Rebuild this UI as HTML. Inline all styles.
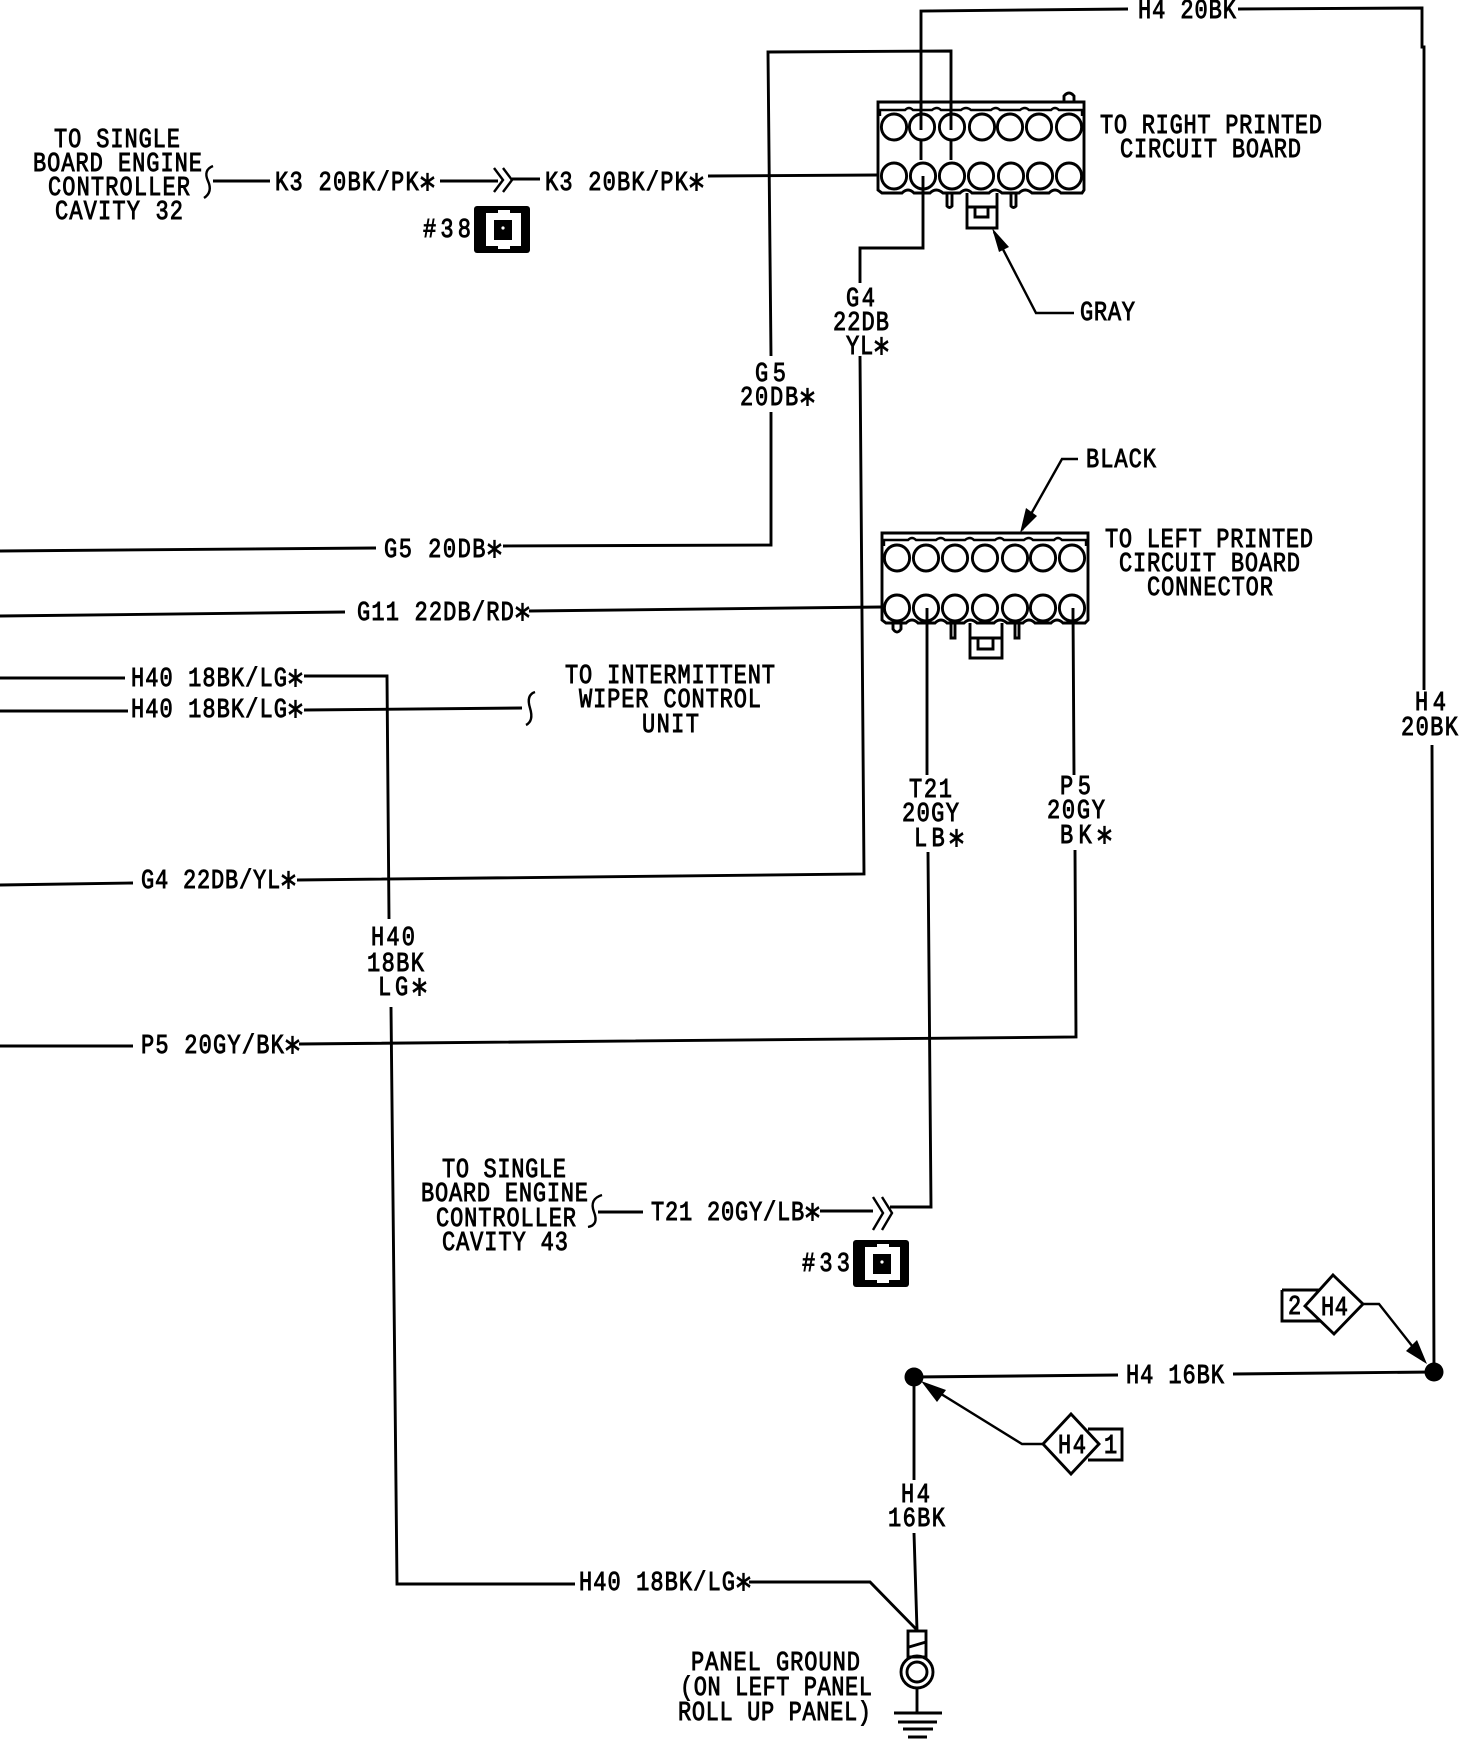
<!DOCTYPE html>
<html><head><meta charset="utf-8"><style>
html,body{margin:0;padding:0;background:#fff}
svg{display:block}
text{font-family:"Liberation Mono",monospace;font-size:22px;fill:#000;stroke:#000;stroke-width:.75px}
tspan{font-family:"DejaVu Sans",sans-serif;font-size:30px}
.w{fill:none;stroke:#000;stroke-width:2.9;stroke-linejoin:miter}
.t{fill:none;stroke:#000;stroke-width:2.4}
</style></head><body>
<svg width="1472" height="1740" viewBox="0 0 1472 1740" xmlns="http://www.w3.org/2000/svg">
<defs>
<g id="pin"><rect x="0" y="0" width="56" height="47" rx="3" fill="#000"/><path d="M12 7H24V4H36V7H47V40H36V43H24V40H12Z" fill="#fff"/><rect x="20" y="14" width="18" height="20" fill="#000"/><circle cx="29" cy="22" r="1.6" fill="#fff"/></g>
</defs>
<!-- wires -->
<path class="w" d="M921 160V11L1128 9M1238 9L1422 8V47L1424 47V690M1432 745L1434 1372"/>
<path class="w" d="M951 160V51L768 52L771 356M771 412V545L503 546M376 548L0 551"/>
<path class="w" d="M0 616L345 612M529 611L882 607"/>
<path class="w" d="M923 176V248H860V283M860 356L864 874L297 880M133 883L0 885"/>
<path class="w" d="M0 678H125M304 676H387L389 919M391 1007L397 1584H575M749 1582H870L917 1630"/>
<path class="w" d="M0 711H128M304 710L522 708"/>
<path class="t" d="M535 692Q526 695 530 708T526 725"/>
<path class="w" d="M0 1046H133M299 1044L1076 1037L1075 850M1074 775L1073 608"/>
<path class="w" d="M927 608V775M928 852L931 1207H890M873 1211H820M643 1212H598"/>
<path class="t" d="M602 1195Q589 1199 594 1212T588 1227"/>
<path class="t" d="M873 1197L883 1213L873 1230M882 1197L892 1213L882 1230"/>
<path class="w" d="M213 181H270M440 181H498M512 179H540M708 176L878 175"/>
<path class="t" d="M213 166Q203 170 208 181T204 198"/>
<path class="t" d="M494 168L503 180L494 192M503 168L512 180L503 192"/>
<path class="w" d="M914 1377L1118 1375M1233 1374L1434 1372"/>
<path class="w" d="M914 1377V1480M914 1533L917 1630"/>
<!-- connector 1 -->
<path class="w" d="M878 102H1084V190L1082 193H1061Q1055 187 1049 193H1032Q1025 187 1019 193H1002Q995 187 989 193H972Q966 187 960 193H943Q936 187 930 193H914Q908 187 902 193H882L878 190Z"/>
<path class="t" d="M880 116V110H905Q909 106 913 110H932Q937 106 941 110H961Q966 106 971 110H991Q996 106 1000 110H1020Q1025 106 1029 110H1051Q1055 106 1059 110H1082V116"/>
<g class="w" fill="#fff" style="fill:#fff"><ellipse cx="894" cy="127" rx="12.6" ry="13"/><ellipse cx="922" cy="127" rx="12.6" ry="13"/><ellipse cx="952" cy="127" rx="12.6" ry="13"/><ellipse cx="982" cy="127" rx="12.6" ry="13"/><ellipse cx="1010" cy="127" rx="12.6" ry="13"/><ellipse cx="1039" cy="127" rx="12.6" ry="13"/><ellipse cx="1069" cy="127" rx="12.6" ry="13"/><ellipse cx="894" cy="176" rx="12.6" ry="13"/><ellipse cx="923" cy="176" rx="12.6" ry="13"/><ellipse cx="952" cy="176" rx="12.6" ry="13"/><ellipse cx="981" cy="176" rx="12.6" ry="13"/><ellipse cx="1011" cy="176" rx="12.6" ry="13"/><ellipse cx="1040" cy="176" rx="12.6" ry="13"/><ellipse cx="1069" cy="176" rx="12.6" ry="13"/></g>
<path class="w" d="M921 102V130M951 102V130M923 176V193"/>
<path class="w" d="M1064 102V96Q1069 90 1074 96V102"/>
<path class="w" d="M947 193V206Q949.500 209 952 206V193M1011 193V206Q1013.500 209 1016 206V193"/>
<path class="w" d="M967 193V228H997V193M967 207H997M975 207V217H988V207"/>
<path class="w" d="M1074 313H1036L994 232" style="stroke-width:2.4"/>
<path d="M992 228L1009 247L999 252Z" fill="#000"/>
<!-- connector 2 -->
<path class="w" d="M882 533H1088V620L1085 623H1063Q1057 617 1051 623H1035Q1029 617 1023 623H1007Q1000 617 994 623H977Q970 617 964 623H947Q941 617 935 623H918Q912 617 906 623H886L882 620Z"/>
<path class="t" d="M884 546V540H908Q912 536 916 540H936Q941 536 945 540H965Q970 536 974 540H995Q1000 536 1004 540H1024Q1029 536 1033 540H1054Q1058 536 1062 540H1086V546"/>
<g class="w" style="fill:#fff"><ellipse cx="897" cy="558" rx="12.6" ry="13"/><ellipse cx="926" cy="558" rx="12.6" ry="13"/><ellipse cx="955" cy="558" rx="12.6" ry="13"/><ellipse cx="985" cy="558" rx="12.6" ry="13"/><ellipse cx="1015" cy="558" rx="12.6" ry="13"/><ellipse cx="1043" cy="558" rx="12.6" ry="13"/><ellipse cx="1072" cy="558" rx="12.6" ry="13"/><ellipse cx="897" cy="608" rx="12.6" ry="13"/><ellipse cx="926" cy="608" rx="12.6" ry="13"/><ellipse cx="955" cy="608" rx="12.6" ry="13"/><ellipse cx="985" cy="608" rx="12.6" ry="13"/><ellipse cx="1015" cy="608" rx="12.6" ry="13"/><ellipse cx="1043" cy="608" rx="12.6" ry="13"/><ellipse cx="1072" cy="608" rx="12.6" ry="13"/></g>
<path class="w" d="M927 608V623M1073 608V623"/>
<path class="w" d="M893 623V629Q897 635 901 629V623M951 623V638H955V623M1015 623V638H1019V623"/>
<path class="w" d="M970 623V658H1002V623M970 638H1002M978 638V649H993V638"/>
<path class="w" d="M1078 459H1062L1022 530" style="stroke-width:2.4"/>
<path d="M1020 533L1026 508L1037 516Z" fill="#000"/>
<!-- ground -->
<rect class="w" x="908" y="1631" width="18" height="26"/>
<path class="w" d="M909 1647L926 1642"/>
<circle class="w" cx="917" cy="1672" r="16"/><circle class="w" cx="917" cy="1672" r="10"/>
<path class="w" d="M917 1688V1713M894 1713H942M898 1722H937M903 1729H933M908 1737H927"/>
<!-- diamonds -->
<path class="w" d="M1282 1290V1321H1320M1282 1290H1320"/>
<path class="w" d="M1333 1275L1363 1304L1334 1334L1305 1306Z" style="fill:#fff"/>
<path class="w" d="M1363 1304H1379L1424 1361" style="stroke-width:2.4"/>
<path d="M1427 1364L1406 1351L1417 1340Z" fill="#000"/>
<path class="w" d="M1088 1429H1122V1460H1088"/>
<path class="w" d="M1071 1414L1099 1444L1071 1474L1043 1444Z" style="fill:#fff"/>
<path class="w" d="M1043 1444H1022L925 1384" style="stroke-width:2.4"/>
<path d="M921 1381L946 1390L937 1402Z" fill="#000"/>
<circle cx="1434" cy="1372" r="9.5" fill="#000"/>
<circle cx="914" cy="1377" r="9.5" fill="#000"/>
<!-- pin blocks -->
<use href="#pin" x="474" y="206"/>
<use href="#pin" x="853" y="1240"/>
<!-- labels -->
<g>
<text transform="translate(1138 18) scale(1 1.24)" textLength="98">H4 20BK</text>
<text transform="translate(1100 133) scale(1 1.24)" textLength="222">TO RIGHT PRINTED</text>
<text transform="translate(1120 157) scale(1 1.24)" textLength="181">CIRCUIT BOARD</text>
<text transform="translate(1080 320) scale(1 1.24)" textLength="55">GRAY</text>
<text transform="translate(846 306) scale(1 1.24)" textLength="29">G4</text>
<text transform="translate(833 330) scale(1 1.24)" textLength="56">22DB</text>
<text transform="translate(846 354) scale(1 1.24)" textLength="43">YL<tspan dy="9">*</tspan></text>
<text transform="translate(755 381) scale(1 1.24)" textLength="31">G5</text>
<text transform="translate(740 405) scale(1 1.24)" textLength="75">20DB<tspan dy="9">*</tspan></text>
<text transform="translate(1086 467) scale(1 1.24)" textLength="70">BLACK</text>
<text transform="translate(1105 547) scale(1 1.24)" textLength="208">TO LEFT PRINTED</text>
<text transform="translate(1119 571) scale(1 1.24)" textLength="181">CIRCUIT BOARD</text>
<text transform="translate(1147 595) scale(1 1.24)" textLength="126">CONNECTOR</text>
<text transform="translate(384 557) scale(1 1.24)" textLength="118">G5 20DB<tspan dy="9">*</tspan></text>
<text transform="translate(357 620) scale(1 1.24)" textLength="173">G11 22DB/RD<tspan dy="9">*</tspan></text>
<text transform="translate(131 686) scale(1 1.24)" textLength="172">H40 18BK/LG<tspan dy="9">*</tspan></text>
<text transform="translate(131 717) scale(1 1.24)" textLength="172">H40 18BK/LG<tspan dy="9">*</tspan></text>
<text transform="translate(565 683) scale(1 1.24)" textLength="210">TO INTERMITTENT</text>
<text transform="translate(579 707) scale(1 1.24)" textLength="182">WIPER CONTROL</text>
<text transform="translate(642 732) scale(1 1.24)" textLength="57">UNIT</text>
<text transform="translate(141 888) scale(1 1.24)" textLength="155">G4 22DB/YL<tspan dy="9">*</tspan></text>
<text transform="translate(909 797) scale(1 1.24)" textLength="43">T21</text>
<text transform="translate(902 821) scale(1 1.24)" textLength="57">20GY</text>
<text transform="translate(914 846) scale(1 1.24)" textLength="50">LB<tspan dy="9">*</tspan></text>
<text transform="translate(1060 794) scale(1 1.24)" textLength="31">P5</text>
<text transform="translate(1047 818) scale(1 1.24)" textLength="58">20GY</text>
<text transform="translate(1060 843) scale(1 1.24)" textLength="52">BK<tspan dy="9">*</tspan></text>
<text transform="translate(1415 710) scale(1 1.24)" textLength="31">H4</text>
<text transform="translate(1401 735) scale(1 1.24)" textLength="57">20BK</text>
<text transform="translate(371 945) scale(1 1.24)" textLength="44">H40</text>
<text transform="translate(367 971) scale(1 1.24)" textLength="57">18BK</text>
<text transform="translate(378 995) scale(1 1.24)" textLength="49">LG<tspan dy="9">*</tspan></text>
<text transform="translate(141 1053) scale(1 1.24)" textLength="159">P5 20GY/BK<tspan dy="9">*</tspan></text>
<text transform="translate(54 147) scale(1 1.24)" textLength="126">TO SINGLE</text>
<text transform="translate(33 171) scale(1 1.24)" textLength="169">BOARD ENGINE</text>
<text transform="translate(48 195) scale(1 1.24)" textLength="142">CONTROLLER</text>
<text transform="translate(55 219) scale(1 1.24)" textLength="128">CAVITY 32</text>
<text transform="translate(275 190) scale(1 1.24)" textLength="160">K3 20BK/PK<tspan dy="9">*</tspan></text>
<text transform="translate(545 190) scale(1 1.24)" textLength="159">K3 20BK/PK<tspan dy="9">*</tspan></text>
<text transform="translate(423 237) scale(1 1.24)" textLength="48">#38</text>
<text transform="translate(442 1177) scale(1 1.24)" textLength="124">TO SINGLE</text>
<text transform="translate(421 1201) scale(1 1.24)" textLength="167">BOARD ENGINE</text>
<text transform="translate(436 1226) scale(1 1.24)" textLength="140">CONTROLLER</text>
<text transform="translate(442 1250) scale(1 1.24)" textLength="126">CAVITY 43</text>
<text transform="translate(651 1220) scale(1 1.24)" textLength="169">T21 20GY/LB<tspan dy="9">*</tspan></text>
<text transform="translate(802 1271) scale(1 1.24)" textLength="48">#33</text>
<text transform="translate(1126 1383) scale(1 1.24)" textLength="98">H4 16BK</text>
<text transform="translate(1321 1315) scale(1 1.24)" textLength="27">H4</text>
<text transform="translate(1288 1314) scale(1 1.24)" textLength="13">2</text>
<text transform="translate(1058 1453) scale(1 1.24)" textLength="28">H4</text>
<text transform="translate(1104 1453) scale(1 1.24)" textLength="12">1</text>
<text transform="translate(901 1502) scale(1 1.24)" textLength="29">H4</text>
<text transform="translate(888 1526) scale(1 1.24)" textLength="57">16BK</text>
<text transform="translate(579 1590) scale(1 1.24)" textLength="172">H40 18BK/LG<tspan dy="9">*</tspan></text>
<text transform="translate(691 1670) scale(1 1.24)" textLength="169">PANEL GROUND</text>
<text transform="translate(680 1695) scale(1 1.24)" textLength="192">(ON LEFT PANEL</text>
<text transform="translate(678 1720) scale(1 1.24)" textLength="193">ROLL UP PANEL)</text>
</g>
</svg>
</body></html>
